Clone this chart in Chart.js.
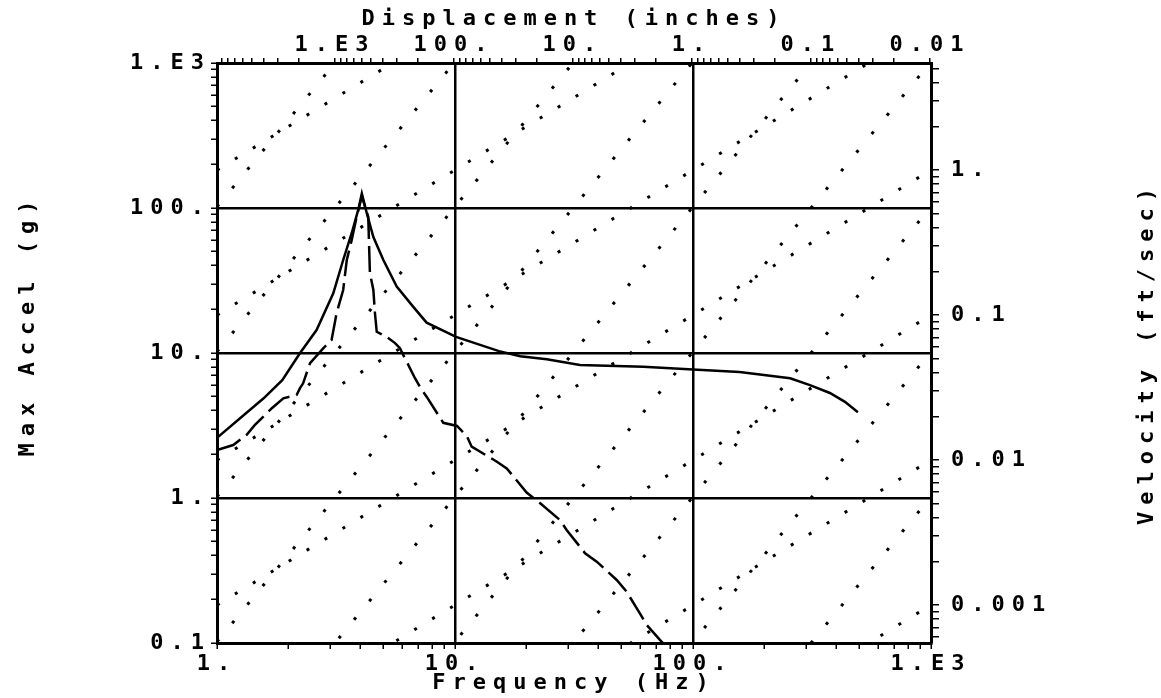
<!DOCTYPE html>
<html>
<head>
<meta charset="utf-8">
<title>Max Accel vs Frequency</title>
<script src="https://cdn.jsdelivr.net/npm/chart.js@4.4.1/dist/chart.umd.min.js"></script>
<style>
  html, body { margin: 0; padding: 0; background: #fff; }
  #wrap { width: 1161px; height: 698px; }
</style>
</head>
<body>
<div id="wrap"><canvas id="srs_chart"></canvas></div>
<script>
// solid curve
var solidFreq  = [1.0, 1.57, 1.88, 2.23, 2.62, 3.08, 3.39, 3.68, 3.92, 4.06, 4.26, 4.54, 5.0, 5.69, 6.68, 7.6, 10.1, 15.3, 18.8, 24.3, 33.5, 61.8, 100, 157, 256, 310, 376, 435, 493];
var solidAccel = [2.6, 4.87, 6.5, 9.95, 14.4, 25.8, 43.8, 67, 97, 126, 92, 63, 43.8, 28.7, 20.8, 16.2, 12.9, 10.3, 9.5, 9.06, 8.26, 8.05, 7.7, 7.4, 6.7, 6.0, 5.3, 4.6, 3.9];

// dashed curve
var dashFreq  = [1.0, 1.17, 1.33, 1.44, 1.70, 1.90, 2.16, 2.23, 2.30, 2.46, 2.80, 3.03, 3.18, 3.39, 3.51, 3.68, 3.86, 4.06, 4.32, 4.39, 4.54, 4.61, 4.69, 5.16, 5.60, 5.87, 6.06, 6.79, 7.25, 7.60, 8.51, 8.93, 10.2, 11.2, 11.75, 15.0, 16.5, 20.0, 22.8, 27.6, 29.5, 35.2, 39.4, 47.8, 52.6, 59.8, 63.9, 72.6, 77];
var dashAccel = [2.14, 2.32, 2.72, 3.18, 4.16, 4.87, 5.13, 5.7, 6.18, 8.5, 10.8, 12.3, 18.8, 27.2, 43.8, 60, 87, 120, 87, 35.5, 27.2, 18.8, 14.0, 12.9, 11.7, 10.8, 9.7, 6.7, 5.56, 5.0, 3.73, 3.3, 3.14, 2.68, 2.26, 1.78, 1.6, 1.09, 0.92, 0.705, 0.6, 0.416, 0.364, 0.272, 0.226, 0.16, 0.133, 0.105, 0.095];

// tick labels
var freqTicks = [1, 10, 100, 1000];
var freqLabels = ['1.', '10.', '100.', '1.E3'];
var accelTicks = [0.1, 1, 10, 100, 1000];
var accelLabels = ['0.1', '1.', '10.', '100.', '1.E3'];
var dispTicks = [1000, 100, 10, 1, 0.1, 0.01];
var dispLabels = ['1.E3', '100.', '10.', '1.', '0.1', '0.01'];
var velTicks = [1, 0.1, 0.01, 0.001];
var velLabels = ['1.', '0.1', '0.01', '0.001'];

// dotted guide lines: constant velocity (ft/sec) and constant displacement (inches)
var velLevels = [1000, 100, 10, 1, 0.1, 0.01, 0.001];
var dispLevels = [1000, 100, 10, 1, 0.1, 0.01, 0.001, 0.0001, 0.00001, 0.000001];

var VEL_K = 5.47;   // ft/sec at 1000 g, 1000 Hz
var DISP_K = 9800;  // inches at 1000 g, 1 Hz

var FONT = '"DejaVu Sans Mono", monospace';
var SPACING = '7px';

function tickText(value, ticks, labels){
    for (var i = 0; i < ticks.length; i++){
        if (Math.abs(value / ticks[i] - 1) < 1e-6) return labels[i];
    }
    return '';
}
function isDecade(v){
    var l = Math.log10(v);
    return Math.abs(l - Math.round(l)) < 1e-6;
}
function gridColor(c){
    return (c.tick && isDecade(c.tick.value)) ? '#000' : 'rgba(0,0,0,0)';
}
// 1..9 x 10^n marks inside the scale range
function logTicks(s){
    var out = [];
    var lo = Math.floor(Math.log10(s.min)), hi = Math.ceil(Math.log10(s.max));
    for (var e = lo; e <= hi; e++){
        for (var k = 1; k <= 9; k++){
            var v = parseFloat((k * Math.pow(10, e)).toPrecision(6));
            if (v >= s.min * (1 - 1e-9) && v <= s.max * (1 + 1e-9)) out.push({value: v, major: k === 1});
        }
    }
    if (s.options.reverse) out.reverse();
    s.ticks = out;
}
function pairs(xs, ys){
    return xs.map(function(x, i){ return {x: x, y: ys[i]}; });
}

var spacing = {
    id: 'spacing',
    beforeUpdate: function(chart){ chart.ctx.letterSpacing = SPACING; },
    beforeDraw: function(chart){ chart.ctx.letterSpacing = SPACING; }
};

function sideTitle(ctx, text, x, y){
    ctx.save();
    ctx.letterSpacing = SPACING;
    ctx.font = 'bold 22px ' + FONT;
    ctx.fillStyle = '#000';
    ctx.textAlign = 'center';
    ctx.textBaseline = 'middle';
    ctx.translate(x, y);
    ctx.rotate(-Math.PI / 2);
    ctx.fillText(text, 0, 0);
    ctx.restore();
}

var sideTitles = {
    id: 'sideTitles',
    afterDraw: function(chart){
        var area = chart.chartArea;
        sideTitle(chart.ctx, 'Max Accel (g)', 28, area.top + 262);
        sideTitle(chart.ctx, 'Velocity (ft/sec)', chart.width - 14, (area.top + area.bottom) / 2);
    }
};

function init(){
    Chart.defaults.font.family = FONT;
    Chart.defaults.font.size = 22;
    Chart.defaults.font.weight = 'bold';
    Chart.defaults.color = '#000';

    var datasets = [
        { data: pairs(solidFreq, solidAccel), borderColor: '#000', borderWidth: 2.5, pointRadius: 0, tension: 0, fill: false },
        { data: pairs(dashFreq, dashAccel), borderColor: '#000', borderWidth: 2.5, borderDash: [26, 7], pointRadius: 0, tension: 0, fill: false }
    ];
    velLevels.forEach(function(v){
        datasets.push({
            data: [{x: 1, y: v * 1 / VEL_K}, {x: 1000, y: v * 1000 / VEL_K}],
            borderColor: '#000', borderWidth: 3, borderDash: [3, 18], pointRadius: 0, fill: false
        });
    });
    dispLevels.forEach(function(d){
        datasets.push({
            data: [{x: 1, y: 1000 * d / DISP_K}, {x: 1000, y: 1000 * d * 1e6 / DISP_K}],
            borderColor: '#000', borderWidth: 3, borderDash: [3, 21], pointRadius: 0, fill: false
        });
    });

    var ctx = document.getElementById('srs_chart').getContext('2d');
    var chart = new Chart(ctx, {
        type: 'line',
        data: { datasets: datasets },
        plugins: [spacing, sideTitles],
        options: {
            responsive: true,
            maintainAspectRatio: false,
            animation: false,
            layout: { padding: 0 },
            plugins: { legend: { display: false }, tooltip: { enabled: false } },
            scales: {
                x: {
                    type: 'logarithmic', position: 'bottom', min: 1, max: 1000,
                    afterFit: function(s){ s.height = 55; },
                    afterBuildTicks: logTicks,
                    grid: { color: gridColor, lineWidth: 2.5, tickColor: '#000', tickWidth: 1.5, tickLength: 6 },
                    border: { color: '#000', width: 3 },
                    ticks: { autoSkip: false, maxRotation: 0, padding: 2,
                        callback: function(v){ return tickText(v, freqTicks, freqLabels); } },
                    title: { display: true, text: 'Frequency (Hz)', padding: { top: 0, bottom: 2 } }
                },
                x2: {
                    type: 'logarithmic', position: 'top', reverse: true,
                    min: DISP_K / 1e6, max: DISP_K,
                    afterFit: function(s){ s.height = 63; },
                    afterBuildTicks: logTicks,
                    grid: { drawOnChartArea: false, color: '#000', lineWidth: 1.5, tickLength: 5 },
                    border: { color: '#000', width: 3 },
                    ticks: { autoSkip: false, maxRotation: 0, padding: 0,
                        callback: function(v){ return tickText(v, dispTicks, dispLabels); } },
                    title: { display: true, text: 'Displacement (inches)', padding: { top: 6, bottom: 0 } }
                },
                y: {
                    type: 'logarithmic', position: 'left', min: 0.1, max: 1000,
                    afterFit: function(s){ s.width = 217; },
                    afterBuildTicks: logTicks,
                    grid: { color: gridColor, lineWidth: 2.5, tickColor: '#000', tickWidth: 1.5, tickLength: 6 },
                    border: { color: '#000', width: 3 },
                    ticks: { autoSkip: false, padding: 0,
                        callback: function(v){ return tickText(v, accelTicks, accelLabels); } }
                },
                y2: {
                    type: 'logarithmic', position: 'right',
                    min: VEL_K / 1e4, max: VEL_K,
                    afterFit: function(s){ s.width = 230; },
                    afterBuildTicks: logTicks,
                    grid: { drawOnChartArea: false, color: '#000', lineWidth: 1.5, tickLength: 8 },
                    border: { color: '#000', width: 3 },
                    ticks: { autoSkip: false, padding: 12,
                        callback: function(v){ return tickText(v, velTicks, velLabels); } }
                }
            }
        }
    });
}

window.onload = init;
</script>
</body>
</html>
